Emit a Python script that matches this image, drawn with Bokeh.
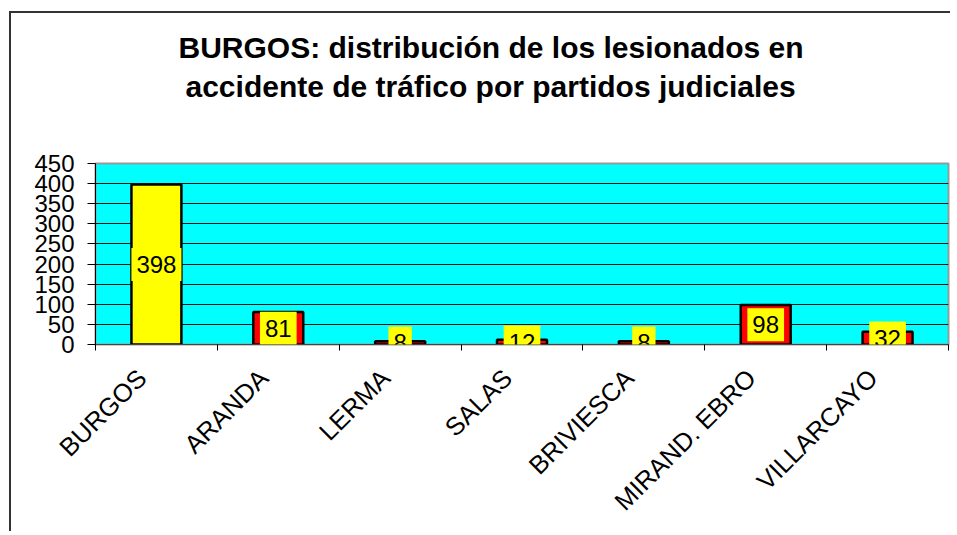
from math import pi
from bokeh.plotting import figure
from bokeh.models import (Range1d, FixedTicker, Title, ColumnDataSource, Label)
from bokeh.embed import file_html
from bokeh.resources import INLINE

# ---- data ----
partidos = ["BURGOS", "ARANDA", "LERMA", "SALAS", "BRIVIESCA", "MIRAND. EBRO", "VILLARCAYO"]
lesionados = [398, 81, 8, 12, 8, 98, 32]
y_ticks = [0, 50, 100, 150, 200, 250, 300, 350, 400, 450]
title_1 = "BURGOS: distribución de los lesionados en"
title_2 = "accidente de tráfico por partidos judiciales"

FONT = "Liberation Sans"
n = len(partidos)
xpos = [i + 0.5 for i in range(n)]
label_shift = -0.12   # style: rotated category labels end slightly left of centre

fills = ["#FFFF00" if i == 0 else "#FF0000" for i in range(n)]
src = ColumnDataSource(dict(x=xpos, val=lesionados, fill=fills))

p = figure(x_range=Range1d(0, n), y_range=Range1d(0, 450),
           width=941, height=520, output_backend="svg", toolbar_location=None,
           min_border_left=84, min_border_right=4,
           min_border_top=150, min_border_bottom=189,
           background_fill_color="#00FFFF", border_fill_color="white",
           outline_line_color="#999999", outline_line_width=2)
p.styles = {"border-left": "2px solid #333333", "border-top": "2px solid #333333",
            "margin-top": "11px", "margin-left": "9px"}

# titles (spacer first so it sits next to the frame)
spacer = Title(text=" ", text_font_size="10px", standoff=48)
t2 = Title(text=title_2, align="left", offset=90, text_font=FONT, text_font_size="30px",
           text_font_style="bold", text_color="black", standoff=0)
t1 = Title(text=title_1, align="left", offset=83, text_font=FONT, text_font_size="30px",
           text_font_style="bold", text_color="black", standoff=7)
p.add_layout(spacer, "above")
p.add_layout(t2, "above")
p.add_layout(t1, "above")

# y axis
p.yaxis.ticker = FixedTicker(ticks=y_ticks)
p.yaxis.major_label_text_font = FONT
p.yaxis.major_label_text_font_size = "24px"
p.yaxis.major_label_text_color = "black"
p.yaxis.major_tick_out = 8
p.yaxis.major_tick_in = 0
p.yaxis.minor_tick_line_color = None
p.yaxis.axis_line_color = "black"
p.yaxis.major_tick_line_color = "black"
p.yaxis.major_label_standoff = 13

p.ygrid.ticker = FixedTicker(ticks=y_ticks)
p.ygrid.grid_line_color = "#111111"
p.ygrid.grid_line_width = 1
p.xgrid.grid_line_color = None

# x axis: labels near category centres, ticks at category boundaries
label_pos = [x + label_shift for x in xpos]
p.xaxis.ticker = FixedTicker(ticks=label_pos, minor_ticks=list(range(n + 1)))
p.xaxis.major_label_overrides = {x: c for x, c in zip(label_pos, partidos)}
p.xaxis.major_tick_line_color = None
p.xaxis.minor_tick_out = 6
p.xaxis.minor_tick_in = 0
p.xaxis.minor_tick_line_color = "black"
p.xaxis.axis_line_color = "#444444"
p.xaxis.major_label_orientation = pi / 4
p.xaxis.major_label_text_font = FONT
p.xaxis.major_label_text_font_size = "25.5px"
p.xaxis.major_label_text_color = "black"
p.xaxis.major_label_standoff = 23

# bars
p.vbar(x="x", top="val", bottom=0, width=0.41, source=src,
       fill_color="fill", line_color="black", line_width=2.5)

# value labels
for x, v in zip(xpos, lesionados):
    p.add_layout(Label(x=x, y=v / 2, text=str(v), text_align="center",
                       text_baseline="middle", text_font=FONT, text_font_size="24px",
                       text_color="black", background_fill_color="#FFFF00",
                       padding=(5, 8)))

open("out.html", "w").write(file_html(p, INLINE))
